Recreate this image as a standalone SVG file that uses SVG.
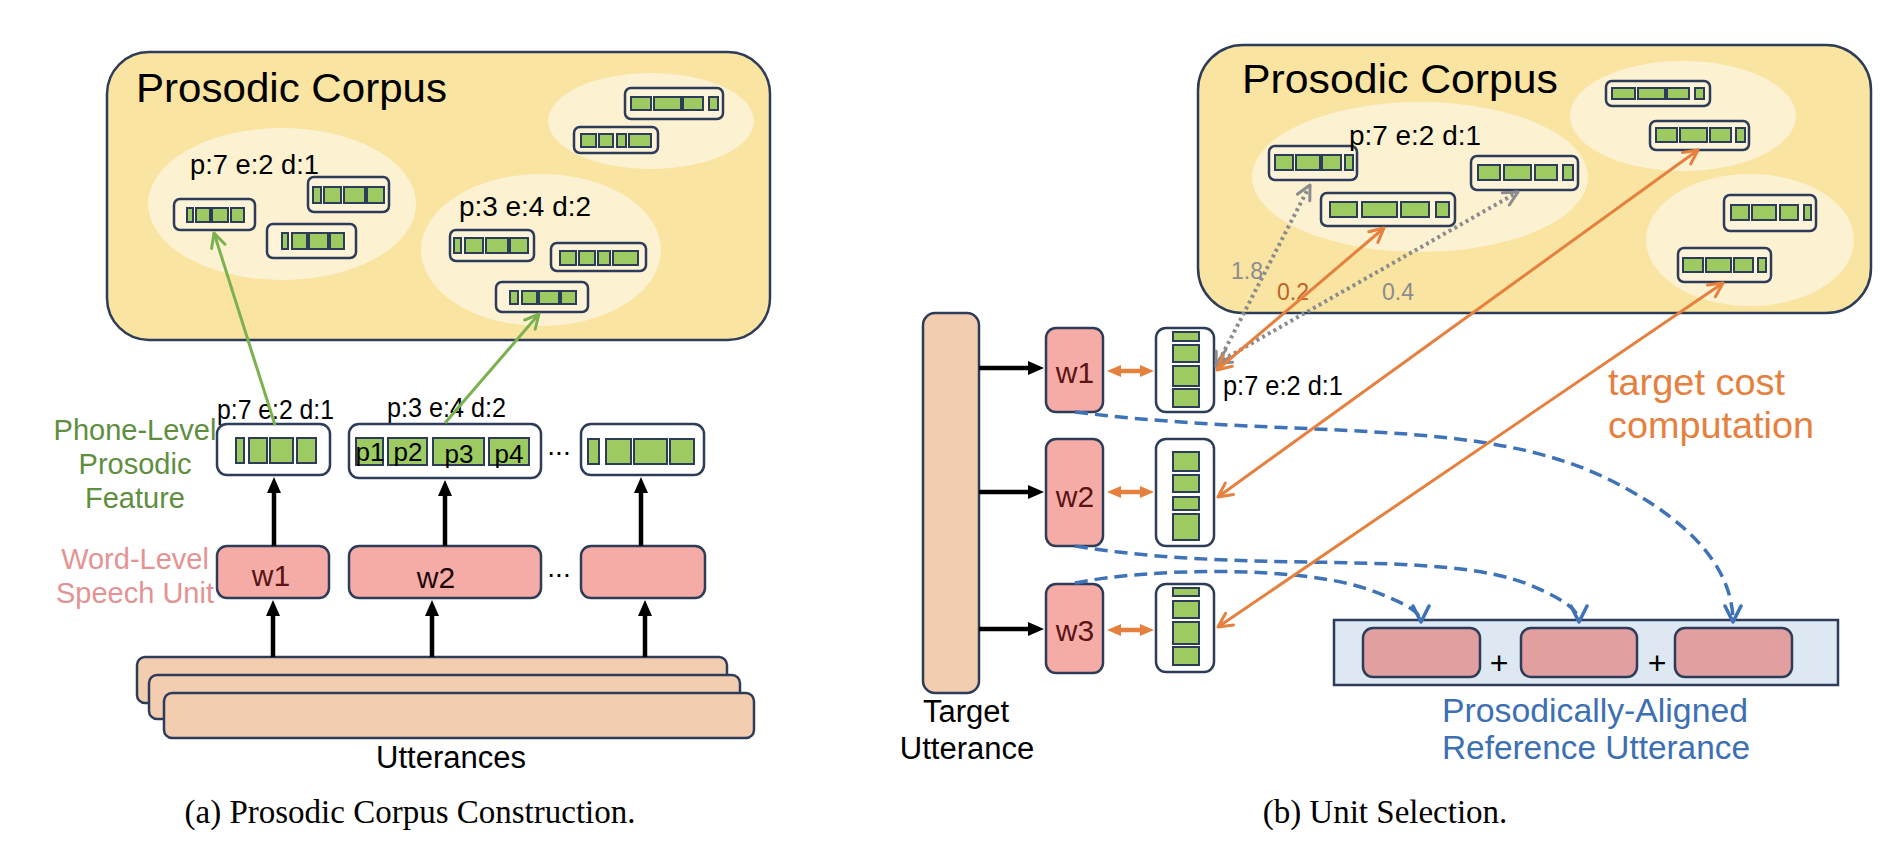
<svg xmlns="http://www.w3.org/2000/svg" width="1896" height="856" viewBox="0 0 1896 856">
<defs>
<style>
text { font-family: "Liberation Sans", Arial, Helvetica, sans-serif; fill:#000; }
.cap { font-family: "Liberation Serif", "Times New Roman", serif; font-size:33px; }
.corpus { fill:#f9e4a2; stroke:#2d3c58; stroke-width:2.5; }
.ell { fill:#fcf1d1; }
.ub { fill:#fdf3d8; stroke:#2d3c58; stroke-width:2.5; }
.cell { fill:#9dcb61; stroke:#2d3c58; stroke-width:2; }
.fb { fill:#fff; stroke:#2d3c58; stroke-width:2.5; }
.wb { fill:#f5aca7; stroke:#2d3c58; stroke-width:2.5; }
.rb { fill:#e29f9f; stroke:#2d3c58; stroke-width:2.5; }
.utt { fill:#f2cdb0; stroke:#2d3c58; stroke-width:2.5; }
.blk { stroke:#000; stroke-width:4.5; fill:none; }
.grn { stroke:#7cb14f; stroke-width:3; fill:none; }
.org { stroke:#e5803e; stroke-width:3; fill:none; }
.orgT { stroke:#e5803e; stroke-width:4.5; fill:none; }
.gry { stroke:#8c8c8c; stroke-width:4; fill:none; stroke-dasharray:3 3.5; }
.blu { stroke:#3f72b6; stroke-width:3.5; fill:none; stroke-dasharray:13 7; }
.pde { font-size:28px; }
.wt { font-size:30px; fill:#5a1414; text-anchor:middle; }
.pt { font-size:26px; text-anchor:middle; }
.title { font-size:41px; }
.side { font-size:29px; text-anchor:middle; }
</style>
<marker id="mBlk" viewBox="0 0 16 14" refX="8" refY="7" markerWidth="16" markerHeight="14" orient="auto" markerUnits="userSpaceOnUse"><path d="M0,0L16,7L0,14z" fill="#000"/></marker>
<marker id="mOrF" viewBox="0 0 14 12" refX="6" refY="6" markerWidth="14" markerHeight="12" orient="auto-start-reverse" markerUnits="userSpaceOnUse"><path d="M0,0L14,6L0,12z" fill="#e5803e"/></marker>
<marker id="mGrn" viewBox="0 0 18 18" refX="16" refY="9" markerWidth="18" markerHeight="18" orient="auto" markerUnits="userSpaceOnUse"><path d="M2,2L16,9L2,16" fill="none" stroke="#7cb14f" stroke-width="3" stroke-linecap="round" stroke-linejoin="round"/></marker>
<marker id="mOrg" viewBox="0 0 18 18" refX="16" refY="9" markerWidth="18" markerHeight="18" orient="auto-start-reverse" markerUnits="userSpaceOnUse"><path d="M2,2L16,9L2,16" fill="none" stroke="#e5803e" stroke-width="3" stroke-linecap="round" stroke-linejoin="round"/></marker>
<marker id="mGry" viewBox="0 0 18 18" refX="16" refY="9" markerWidth="18" markerHeight="18" orient="auto-start-reverse" markerUnits="userSpaceOnUse"><path d="M2,2L16,9L2,16" fill="none" stroke="#8c8c8c" stroke-width="3" stroke-linecap="round" stroke-linejoin="round"/></marker>
<marker id="mBlu" viewBox="0 0 20 20" refX="18" refY="10" markerWidth="20" markerHeight="20" orient="auto" markerUnits="userSpaceOnUse"><path d="M2,2L18,10L2,18" fill="none" stroke="#3f72b6" stroke-width="3.5" stroke-linecap="round" stroke-linejoin="round"/></marker>
</defs>
<rect width="1896" height="856" fill="#fff"/>

<!-- ========== (a) Prosodic Corpus Construction ========== -->
<g id="a-corpus">
<rect class="corpus" x="107" y="52" width="663" height="288" rx="42"/>
<text class="title" x="136" y="102" textLength="311" lengthAdjust="spacingAndGlyphs">Prosodic Corpus</text>
<ellipse class="ell" cx="651" cy="121" rx="103" ry="48"/>
<ellipse class="ell" cx="282" cy="204" rx="134" ry="76"/>
<ellipse class="ell" cx="541" cy="250" rx="120" ry="76"/>
<text class="pde" x="190" y="174" textLength="129" lengthAdjust="spacingAndGlyphs">p:7 e:2 d:1</text>
<text class="pde" x="459" y="216" textLength="132" lengthAdjust="spacingAndGlyphs">p:3 e:4 d:2</text>
</g>
<g id="a-unit-tr1"><rect class="ub" x="625" y="88" width="98" height="31" rx="6"/><rect class="cell" x="631" y="97" width="20" height="13"/><rect class="cell" x="654" y="97" width="27" height="13"/><rect class="cell" x="683" y="97" width="20" height="13"/><rect class="cell" x="709" y="97" width="9" height="13"/></g>
<g id="a-unit-tr2"><rect class="ub" x="574" y="127" width="84" height="26" rx="6"/><rect class="cell" x="581" y="134" width="15" height="13"/><rect class="cell" x="599" y="134" width="14" height="13"/><rect class="cell" x="617" y="134" width="9" height="13"/><rect class="cell" x="629" y="134" width="22" height="13"/></g>
<g id="a-unit-l1"><rect class="ub" x="174" y="199" width="81" height="31" rx="6"/><rect class="cell" x="187" y="208" width="6" height="14"/><rect class="cell" x="196" y="208" width="14" height="14"/><rect class="cell" x="212" y="208" width="16" height="14"/><rect class="cell" x="231" y="208" width="13" height="14"/></g>
<g id="a-unit-l2"><rect class="ub" x="308" y="177" width="81" height="35" rx="6"/><rect class="cell" x="313" y="187" width="8" height="16"/><rect class="cell" x="324" y="187" width="17" height="16"/><rect class="cell" x="344" y="187" width="21" height="16"/><rect class="cell" x="367" y="187" width="17" height="16"/></g>
<g id="a-unit-l3"><rect class="ub" x="267" y="224" width="89" height="34" rx="6"/><rect class="cell" x="282" y="233" width="6" height="16"/><rect class="cell" x="292" y="233" width="15" height="16"/><rect class="cell" x="309" y="233" width="19" height="16"/><rect class="cell" x="330" y="233" width="14" height="16"/></g>
<g id="a-unit-r1"><rect class="ub" x="450" y="230" width="84" height="31" rx="6"/><rect class="cell" x="454" y="238" width="7" height="15"/><rect class="cell" x="465" y="238" width="18" height="15"/><rect class="cell" x="486" y="238" width="22" height="15"/><rect class="cell" x="510" y="238" width="18" height="15"/></g>
<g id="a-unit-r2"><rect class="ub" x="551" y="243" width="95" height="28" rx="6"/><rect class="cell" x="560" y="251" width="16" height="14"/><rect class="cell" x="579" y="251" width="16" height="14"/><rect class="cell" x="598" y="251" width="12" height="14"/><rect class="cell" x="613" y="251" width="25" height="14"/></g>
<g id="a-unit-r3"><rect class="ub" x="496" y="282" width="92" height="30" rx="6"/><rect class="cell" x="510" y="291" width="8" height="13"/><rect class="cell" x="522" y="291" width="15" height="13"/><rect class="cell" x="539" y="291" width="20" height="13"/><rect class="cell" x="561" y="291" width="15" height="13"/></g>

<g id="a-labels">
<text class="side" x="135" y="440" style="fill:#5e8e3e">Phone-Level</text>
<text class="side" x="135" y="474" style="fill:#5e8e3e">Prosodic</text>
<text class="side" x="135" y="508" style="fill:#5e8e3e">Feature</text>
<text class="side" x="135" y="569" style="fill:#e39393">Word-Level</text>
<text class="side" x="135" y="603" style="fill:#e39393">Speech Unit</text>
<text class="pde" x="217" y="419" textLength="117" lengthAdjust="spacingAndGlyphs">p:7 e:2 d:1</text>
<text class="pde" x="387" y="417" textLength="119" lengthAdjust="spacingAndGlyphs">p:3 e:4 d:2</text>
</g>
<g id="a-feat1"><rect class="fb" x="217" y="424" width="113" height="51" rx="10"/><rect class="cell" x="236" y="438" width="8" height="25"/><rect class="cell" x="249" y="438" width="18" height="25"/><rect class="cell" x="270" y="438" width="23" height="25"/><rect class="cell" x="297" y="438" width="19" height="25"/></g>
<g id="a-feat2"><rect class="fb" x="349" y="424" width="192" height="54" rx="10"/><rect class="cell" x="356" y="438" width="27" height="27"/><rect class="cell" x="388" y="438" width="39" height="27"/><rect class="cell" x="433" y="438" width="51" height="27"/><rect class="cell" x="489" y="438" width="40" height="27"/>
<text class="pt" x="370" y="461">p1</text><text class="pt" x="408" y="461">p2</text><text class="pt" x="459" y="463">p3</text><text class="pt" x="509" y="463">p4</text></g>
<text x="559" y="455" font-size="28" text-anchor="middle">...</text>
<g id="a-feat3"><rect class="fb" x="581" y="424" width="123" height="51" rx="10"/><rect class="cell" x="588" y="439" width="11" height="25"/><rect class="cell" x="606" y="439" width="25" height="25"/><rect class="cell" x="634" y="439" width="33" height="25"/><rect class="cell" x="670" y="439" width="24" height="25"/></g>
<g id="a-w1"><rect class="wb" x="217" y="546" width="112" height="52" rx="10"/><text class="wt" x="271" y="586">w1</text></g>
<g id="a-w2"><rect class="wb" x="349" y="546" width="192" height="52" rx="10"/><text class="wt" x="436" y="588" style="fill:#1e0808">w2</text></g>
<text x="559" y="577" font-size="28" text-anchor="middle">...</text>
<g id="a-w3"><rect class="wb" x="581" y="546" width="124" height="52" rx="10"/></g>
<g id="a-utterances">
<rect class="utt" x="137" y="657" width="590" height="46" rx="8"/>
<rect class="utt" x="149" y="675" width="591" height="44" rx="8"/>
<rect class="utt" x="164" y="693" width="590" height="45" rx="8"/>
<text x="451" y="768" font-size="31" text-anchor="middle">Utterances</text>
</g>
<text class="cap" x="410" y="823" text-anchor="middle">(a) Prosodic Corpus Construction.</text>

<!-- ========== (b) Unit Selection ========== -->
<g id="b-corpus">
<rect class="corpus" x="1198" y="45" width="673" height="268" rx="45"/>
<ellipse class="ell" cx="1420" cy="177" rx="168" ry="75"/>
<ellipse class="ell" cx="1683" cy="116" rx="113" ry="55"/>
<ellipse class="ell" cx="1750" cy="240" rx="104" ry="66"/>
<text class="title" x="1242" y="93" textLength="316" lengthAdjust="spacingAndGlyphs">Prosodic Corpus</text>
</g>
<g id="b-unit1"><rect class="ub" x="1269" y="146" width="88" height="34" rx="6"/><rect class="cell" x="1275" y="155" width="18" height="15"/><rect class="cell" x="1296" y="155" width="24" height="15"/><rect class="cell" x="1322" y="155" width="19" height="15"/><rect class="cell" x="1345" y="155" width="8" height="15"/></g>
<text class="pde" x="1349" y="145" textLength="132" lengthAdjust="spacingAndGlyphs">p:7 e:2 d:1</text>
<g id="b-unit2"><rect class="ub" x="1321" y="193" width="134" height="33" rx="6"/><rect class="cell" x="1330" y="202" width="27" height="15"/><rect class="cell" x="1362" y="202" width="35" height="15"/><rect class="cell" x="1401" y="202" width="28" height="15"/><rect class="cell" x="1436" y="202" width="13" height="15"/></g>
<g id="b-unit3"><rect class="ub" x="1471" y="156" width="107" height="34" rx="6"/><rect class="cell" x="1478" y="165" width="22" height="15"/><rect class="cell" x="1504" y="165" width="27" height="15"/><rect class="cell" x="1535" y="165" width="22" height="15"/><rect class="cell" x="1563" y="165" width="10" height="15"/></g>
<g id="b-unit4"><rect class="ub" x="1606" y="81" width="104" height="25" rx="6"/><rect class="cell" x="1612" y="88" width="23" height="11"/><rect class="cell" x="1638" y="88" width="27" height="11"/><rect class="cell" x="1667" y="88" width="22" height="11"/><rect class="cell" x="1695" y="88" width="9" height="11"/></g>
<g id="b-unit5"><rect class="ub" x="1650" y="121" width="99" height="29" rx="6"/><rect class="cell" x="1656" y="128" width="21" height="14"/><rect class="cell" x="1680" y="128" width="27" height="14"/><rect class="cell" x="1710" y="128" width="21" height="14"/><rect class="cell" x="1736" y="128" width="9" height="14"/></g>
<g id="b-unit6"><rect class="ub" x="1724" y="195" width="92" height="36" rx="6"/><rect class="cell" x="1731" y="205" width="18" height="15"/><rect class="cell" x="1752" y="205" width="24" height="15"/><rect class="cell" x="1780" y="205" width="18" height="15"/><rect class="cell" x="1804" y="205" width="7" height="15"/></g>
<g id="b-unit7"><rect class="ub" x="1678" y="248" width="93" height="34" rx="6"/><rect class="cell" x="1683" y="258" width="20" height="14"/><rect class="cell" x="1706" y="258" width="25" height="14"/><rect class="cell" x="1734" y="258" width="19" height="14"/><rect class="cell" x="1758" y="258" width="8" height="14"/></g>

<g id="b-target">
<rect class="utt" x="923" y="313" width="56" height="380" rx="12"/>
<text x="966" y="722" font-size="31" text-anchor="middle">Target</text>
<text x="967" y="759" font-size="31" text-anchor="middle">Utterance</text>
</g>
<g id="b-w1"><rect class="wb" x="1046" y="328" width="57" height="84" rx="10"/><text class="wt" x="1075" y="383">w1</text></g>
<g id="b-w2"><rect class="wb" x="1046" y="439" width="57" height="107" rx="10"/><text class="wt" x="1075" y="507">w2</text></g>
<g id="b-w3"><rect class="wb" x="1046" y="584" width="57" height="89" rx="10"/><text class="wt" x="1075" y="641">w3</text></g>
<g id="b-feat1"><rect class="fb" x="1156" y="328" width="58" height="84" rx="10"/><rect class="cell" x="1173" y="332" width="26" height="9"/><rect class="cell" x="1173" y="345" width="26" height="17"/><rect class="cell" x="1173" y="366" width="26" height="20"/><rect class="cell" x="1173" y="389" width="26" height="18"/></g>
<text class="pde" x="1223" y="395" textLength="120" lengthAdjust="spacingAndGlyphs">p:7 e:2 d:1</text>
<g id="b-feat2"><rect class="fb" x="1156" y="439" width="58" height="107" rx="10"/><rect class="cell" x="1173" y="452" width="26" height="19"/><rect class="cell" x="1173" y="475" width="26" height="17"/><rect class="cell" x="1173" y="497" width="26" height="13"/><rect class="cell" x="1173" y="514" width="26" height="26"/></g>
<g id="b-feat3"><rect class="fb" x="1156" y="584" width="58" height="88" rx="10"/><rect class="cell" x="1173" y="588" width="26" height="8"/><rect class="cell" x="1173" y="601" width="26" height="17"/><rect class="cell" x="1173" y="622" width="26" height="22"/><rect class="cell" x="1173" y="647" width="26" height="18"/></g>

<g id="b-reference">
<rect x="1334" y="620" width="504" height="65" fill="#dde8f3" stroke="#2d3c58" stroke-width="2.5"/>
<rect class="rb" x="1363" y="628" width="117" height="49" rx="10"/>
<rect class="rb" x="1521" y="628" width="116" height="49" rx="10"/>
<rect class="rb" x="1675" y="628" width="117" height="49" rx="10"/>
<text x="1499" y="674" font-size="32" text-anchor="middle">+</text>
<text x="1657" y="674" font-size="32" text-anchor="middle">+</text>
<text x="1442" y="722" font-size="33" style="fill:#3d6fb3" textLength="306" lengthAdjust="spacingAndGlyphs">Prosodically-Aligned</text>
<text x="1442" y="759" font-size="33" style="fill:#3d6fb3" textLength="308" lengthAdjust="spacingAndGlyphs">Reference Utterance</text>
</g>
<g id="b-labels">
<text x="1608" y="395" font-size="37" style="fill:#e5803e" textLength="177" lengthAdjust="spacingAndGlyphs">target cost</text>
<text x="1608" y="438" font-size="37" style="fill:#e5803e" textLength="206" lengthAdjust="spacingAndGlyphs">computation</text>
<text x="1231" y="279" font-size="23" style="fill:#8c8c8c">1.8</text>
<text x="1277" y="300" font-size="23" style="fill:#c0612b">0.2</text>
<text x="1382" y="300" font-size="23" style="fill:#8c8c8c">0.4</text>
</g>
<text class="cap" x="1385" y="823" text-anchor="middle">(b) Unit Selection.</text>

<!-- ========== connectors ========== -->
<g id="connectors">
<path class="grn" d="M275,425 L214,233" marker-end="url(#mGrn)"/>
<path class="grn" d="M445,423 L539,314" marker-end="url(#mGrn)"/>
<path class="blk" d="M274,546 V485" marker-end="url(#mBlk)"/>
<path class="blk" d="M445,546 V488" marker-end="url(#mBlk)"/>
<path class="blk" d="M641,546 V485" marker-end="url(#mBlk)"/>
<path class="blk" d="M273,657 V608" marker-end="url(#mBlk)"/>
<path class="blk" d="M432,657 V608" marker-end="url(#mBlk)"/>
<path class="blk" d="M645,657 V608" marker-end="url(#mBlk)"/>

<path class="blk" d="M979,368 H1036" marker-end="url(#mBlk)"/>
<path class="blk" d="M979,492 H1036" marker-end="url(#mBlk)"/>
<path class="blk" d="M979,629 H1036" marker-end="url(#mBlk)"/>
<path class="orgT" d="M1115,371 H1146" marker-start="url(#mOrF)" marker-end="url(#mOrF)"/>
<path class="orgT" d="M1115,492 H1146" marker-start="url(#mOrF)" marker-end="url(#mOrF)"/>
<path class="orgT" d="M1115,630 H1146" marker-start="url(#mOrF)" marker-end="url(#mOrF)"/>

<path class="blu" d="M1075,412 C1300,440 1480,415 1610,480 C1700,525 1733,575 1733,622" marker-end="url(#mBlu)"/>
<path class="blu" d="M1075,546 C1250,575 1440,548 1530,585 C1565,600 1579,610 1579,622" marker-end="url(#mBlu)"/>
<path class="blu" d="M1075,583 C1150,568 1300,565 1370,590 C1405,603 1421,612 1421,622" marker-end="url(#mBlu)"/>

<path class="gry" d="M1216,367 L1310,185" marker-start="url(#mGry)" marker-end="url(#mGry)"/>
<path class="gry" d="M1217,363 L1518,192" marker-start="url(#mGry)" marker-end="url(#mGry)"/>
<path class="org" d="M1217,370 L1384,228" marker-start="url(#mOrg)" marker-end="url(#mOrg)"/>
<path class="org" d="M1218,497 L1698,150" marker-start="url(#mOrg)" marker-end="url(#mOrg)"/>
<path class="org" d="M1218,627 L1723,283" marker-start="url(#mOrg)" marker-end="url(#mOrg)"/>
</g>
</svg>
